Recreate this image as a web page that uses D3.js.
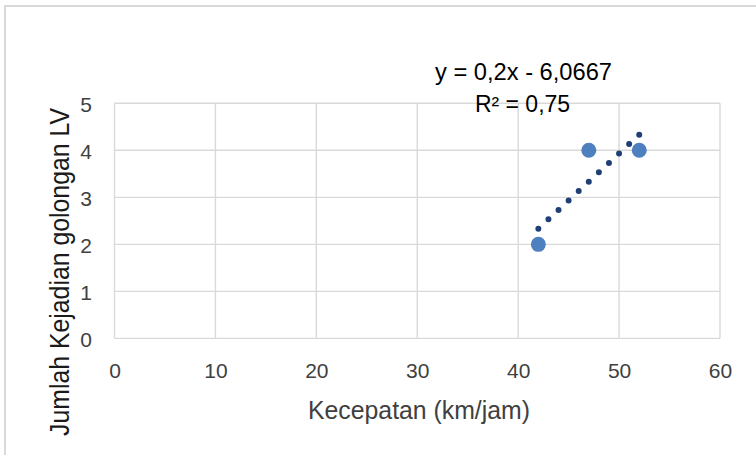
<!DOCTYPE html>
<html>
<head>
<meta charset="utf-8">
<script src="https://cdn.jsdelivr.net/npm/d3@7"></script>
<style>
  html, body { margin: 0; padding: 0; background: #fff; }
  svg { display: block; font-family: "Liberation Sans", Arial, sans-serif; }
</style>
</head>
<body>
<svg id="chart" width="756" height="455"></svg>
<script>
// Speed vs. number of LV-class incidents
const kecepatan = [42, 47, 52];          // km/jam
const jumlahKejadian = [2, 4, 4];        // incidents
const xTickValues = [0, 10, 20, 30, 40, 50, 60];
const yTickValues = [0, 1, 2, 3, 4, 5];
const trendSlope = 0.2;
const trendIntercept = -6.0667;
const trendLabel = ["y = 0,2x - 6,0667", "R\u00B2 = 0,75"];
const xTitle = "Kecepatan (km/jam)";
const yTitle = "Jumlah Kejadian golongan LV";

const svg = d3.select("#chart");

// chart frame
svg.append("rect")
  .attr("x", 5).attr("y", 6)
  .attr("width", 800).attr("height", 500)
  .attr("fill", "#fff")
  .attr("stroke", "#d9d9d9").attr("stroke-width", 2);

const x = d3.scaleLinear().domain([0, 60]).range([114.5, 720]);
const y = d3.scaleLinear().domain([0, 5]).range([338.4, 103.3]);

// gridlines
const grid = svg.append("g").attr("stroke", "#d9d9d9").attr("stroke-width", 1.4);
grid.selectAll("line.v").data(xTickValues).join("line")
  .attr("class", "v")
  .attr("x1", d => x(d)).attr("x2", d => x(d))
  .attr("y1", y(0)).attr("y2", y(5));
grid.selectAll("line.h").data(yTickValues).join("line")
  .attr("class", "h")
  .attr("x1", x(0)).attr("x2", x(60))
  .attr("y1", d => y(d)).attr("y2", d => y(d));

// axes (labels only)
const xAxis = svg.append("g")
  .attr("transform", `translate(0,${y(0)})`)
  .call(d3.axisBottom(x).tickValues(xTickValues).tickSize(0).tickPadding(0).tickFormat(d3.format("d")));
xAxis.select(".domain").remove();
xAxis.selectAll("text")
  .attr("y", 378 - y(0)).attr("dy", null)
  .attr("fill", "#404040")
  .style("font-size", "21px")
  .style("font-family", "'Liberation Sans', Arial, sans-serif");

const yAxis = svg.append("g")
  .attr("transform", `translate(${x(0)},0)`)
  .call(d3.axisLeft(y).tickValues(yTickValues).tickSize(0).tickPadding(0).tickFormat(d3.format("d")));
yAxis.select(".domain").remove();
yAxis.selectAll("text")
  .attr("x", 92 - x(0)).attr("dy", "8.5px")
  .attr("text-anchor", "end")
  .attr("fill", "#404040")
  .style("font-size", "21px")
  .style("font-family", "'Liberation Sans', Arial, sans-serif");

// axis titles
svg.append("text")
  .attr("x", 419).attr("y", 418.5)
  .attr("text-anchor", "middle")
  .attr("fill", "#404040")
  .attr("font-size", 25.5)
  .attr("textLength", 222).attr("lengthAdjust", "spacingAndGlyphs")
  .text(xTitle);

svg.append("text")
  .attr("transform", "translate(68.5,272) rotate(-90)")
  .attr("text-anchor", "middle")
  .attr("fill", "#1a1a1a")
  .attr("font-size", 27)
  .attr("textLength", 328).attr("lengthAdjust", "spacingAndGlyphs")
  .text(yTitle);

// linear trendline, dotted (11 round dots across the data range)
const xExtent = d3.extent(kecepatan);
const trendData = xExtent.map(v => [v, trendSlope * v + trendIntercept]);
const trend = svg.append("path")
  .datum(trendData)
  .attr("d", d3.line().x(d => x(d[0])).y(d => y(d[1])))
  .attr("fill", "none")
  .attr("stroke", "#203f74")
  .attr("stroke-width", 6)
  .attr("stroke-linecap", "round");
const len = trend.node().getTotalLength();
trend.attr("stroke-dasharray", `0 ${(len - 0.05) / 10}`);

// data points
svg.append("g").selectAll("circle")
  .data(kecepatan.map((v, i) => [v, jumlahKejadian[i]]))
  .join("circle")
  .attr("cx", d => x(d[0])).attr("cy", d => y(d[1]))
  .attr("r", 7.5)
  .attr("fill", "#4e7fbf");

// trendline equation
const eq = svg.append("g").attr("fill", "#000").attr("font-size", 23).attr("text-anchor", "middle");
eq.append("text").attr("x", 523.5).attr("y", 79.5)
  .attr("textLength", 177).attr("lengthAdjust", "spacingAndGlyphs")
  .text(trendLabel[0]);
eq.append("text").attr("x", 522.5).attr("y", 111.7)
  .text(trendLabel[1]);
</script>
</body>
</html>
